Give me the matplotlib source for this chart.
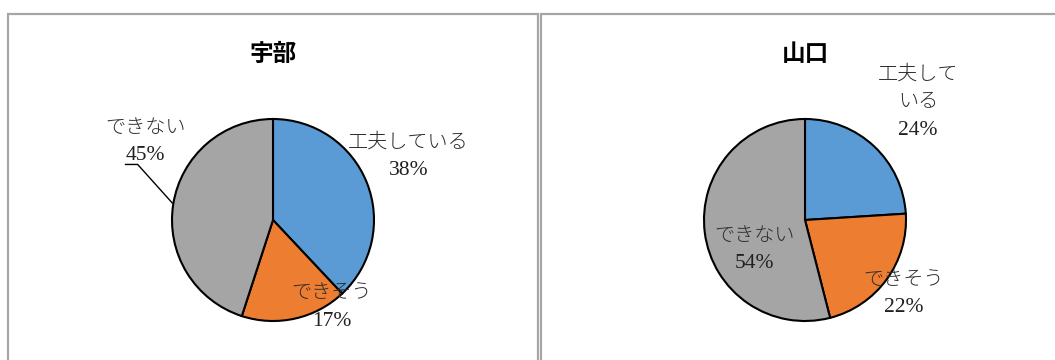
import matplotlib
matplotlib.use('Agg')
import matplotlib.pyplot as plt
from matplotlib.patches import Rectangle

plt.rcParams['font.family'] = ['Liberation Serif', 'Noto Sans CJK JP', 'DejaVu Sans']

# データ
categories = ['工夫している', 'できそう', 'できない']
ube_values = [38, 17, 45]
yamaguchi_values = [24, 22, 54]
colors = ['#5B9BD5', '#ED7D31', '#A5A5A5']

W, H = 1055, 360
fig = plt.figure(figsize=(W / 100, H / 100), dpi=100)

# パネルの枠線
for x0, x1 in [(7.5, 537.5), (540.5, 1070)]:
    fig.patches.append(Rectangle((x0 / W, -0.1), (x1 - x0) / W, (H - 14) / H + 0.1,
                                 transform=fig.transFigure, fill=False,
                                 edgecolor='#a6a6a6', linewidth=1.6))

R_PX = 101  # 円の半径(ピクセル)


def draw_pie(cx, cy, values, title):
    # 円の中心(cx, cy: 上からのピクセル)に合わせた正方形の軸
    half = 180
    ax = fig.add_axes([(cx - half) / W, (H - cy - half) / H, 2 * half / W, 2 * half / H])
    ax.pie(values, colors=colors, startangle=90, counterclock=False, radius=1,
           wedgeprops=dict(edgecolor='black', linewidth=1.5))
    lim = half / R_PX
    ax.set_xlim(-lim, lim)
    ax.set_ylim(-lim, lim)
    ax.set_aspect('equal')
    ax.axis('off')
    ax.text(0, 1.64, title, ha='center', va='center', fontsize=17, fontweight='bold',
            family='Noto Sans CJK JP', color='black')
    return ax


def label(ax, x, y_lines, name_lines, pct):
    # 名前(複数行)とパーセントを別々に配置
    for y, s in zip(y_lines, name_lines):
        ax.text(x, y, s, ha='center', va='center', fontsize=14.5, color='#2e2e2e',
                family='Noto Sans CJK JP', fontweight='light')
    ax.text(x, y_lines[-1] - 0.28, f'{pct}%', ha='center', va='center', fontsize=15.5,
            color='#202020', family='Liberation Serif')


# 宇部
ax1 = draw_pie(273, 220, ube_values, '宇部')
label(ax1, 1.34, [0.77], ['工夫している'], ube_values[0])
label(ax1, 0.58, [-0.72], ['できそう'], ube_values[1])
label(ax1, -1.26, [0.92], ['できない'], ube_values[2])
ax1.plot([-1.46, -1.34, -0.997], [0.55, 0.55, 0.168], color='black', linewidth=1)

# 山口
ax2 = draw_pie(805, 220, yamaguchi_values, '山口')
label(ax2, 1.12, [1.44, 1.17], ['工夫して', 'いる'], yamaguchi_values[0])
label(ax2, 0.98, [-0.59], ['できそう'], yamaguchi_values[1])
label(ax2, -0.50, [-0.15], ['できない'], yamaguchi_values[2])

fig.savefig('out.png', dpi=100)
